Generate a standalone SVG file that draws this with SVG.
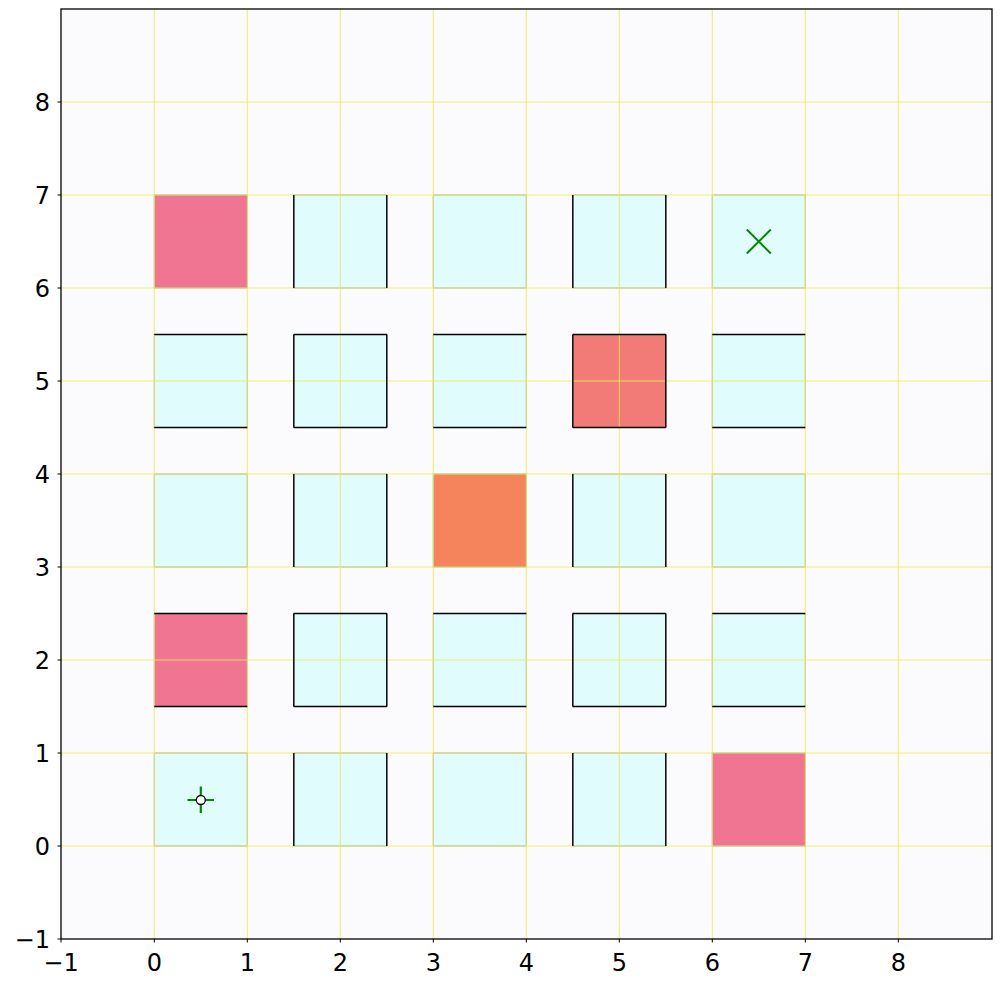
<svg xmlns="http://www.w3.org/2000/svg" width="1000" height="987" viewBox="0 0 1000 987">
<style>
.cell{stroke:#a4a4a8;stroke-width:1}
.free{fill:#e0fcfc}
.pink{fill:#ef7592}
.mix{fill:#f27b78}
.orng{fill:#f5845c}
.wall{stroke:#000;stroke-width:1.4;fill:none}
.grid{stroke:#ecec50;stroke-width:1;opacity:0.85;fill:none}
.tick{stroke:#000;stroke-width:1}
.lbl{font-family:"DejaVu Sans",sans-serif;font-size:24px;fill:#000}
</style>
<rect x="0" y="0" width="1000" height="987" fill="#ffffff"/>
<rect x="61" y="9" width="931" height="930" fill="#fbfbfe"/>

<g id="cells">
  <rect id="c-0-6" class="cell pink" x="154.3" y="195" width="93" height="93"/>
  <rect id="c-15-6" class="cell free" x="293.8" y="195" width="93" height="93"/>
  <rect id="c-3-6" class="cell free" x="433.3" y="195" width="93" height="93"/>
  <rect id="c-45-6" class="cell free" x="572.8" y="195" width="93" height="93"/>
  <rect id="c-6-6" class="cell free" x="712.3" y="195" width="93" height="93"/>
  <rect id="c-0-45" class="cell free" x="154.3" y="334.5" width="93" height="93"/>
  <rect id="c-15-45" class="cell free" x="293.8" y="334.5" width="93" height="93"/>
  <rect id="c-3-45" class="cell free" x="433.3" y="334.5" width="93" height="93"/>
  <rect id="c-45-45" class="cell mix" x="572.8" y="334.5" width="93" height="93"/>
  <rect id="c-6-45" class="cell free" x="712.3" y="334.5" width="93" height="93"/>
  <rect id="c-0-3" class="cell free" x="154.3" y="474" width="93" height="93"/>
  <rect id="c-15-3" class="cell free" x="293.8" y="474" width="93" height="93"/>
  <rect id="c-3-3" class="cell orng" x="433.3" y="474" width="93" height="93"/>
  <rect id="c-45-3" class="cell free" x="572.8" y="474" width="93" height="93"/>
  <rect id="c-6-3" class="cell free" x="712.3" y="474" width="93" height="93"/>
  <rect id="c-0-15" class="cell pink" x="154.3" y="613.5" width="93" height="93"/>
  <rect id="c-15-15" class="cell free" x="293.8" y="613.5" width="93" height="93"/>
  <rect id="c-3-15" class="cell free" x="433.3" y="613.5" width="93" height="93"/>
  <rect id="c-45-15" class="cell free" x="572.8" y="613.5" width="93" height="93"/>
  <rect id="c-6-15" class="cell free" x="712.3" y="613.5" width="93" height="93"/>
  <rect id="c-0-0" class="cell free" x="154.3" y="753" width="93" height="93"/>
  <rect id="c-15-0" class="cell free" x="293.8" y="753" width="93" height="93"/>
  <rect id="c-3-0" class="cell free" x="433.3" y="753" width="93" height="93"/>
  <rect id="c-45-0" class="cell free" x="572.8" y="753" width="93" height="93"/>
  <rect id="c-6-0" class="cell pink" x="712.3" y="753" width="93" height="93"/>
</g>

<g id="grid">
  <path class="grid" d="M154.3 9V939M247.3 9V939M340.3 9V939M433.3 9V939M526.3 9V939M619.3 9V939M712.3 9V939M805.3 9V939M898.3 9V939"/>
  <path class="grid" d="M61 846H992M61 753H992M61 660H992M61 567H992M61 474H992M61 381H992M61 288H992M61 195H992M61 102H992"/>
</g>

<g id="walls">
  <path class="wall" d="M293.8 195V288M386.8 195V288M572.8 195V288M665.8 195V288"/>
  <path class="wall" d="M293.8 334.5V427.5M386.8 334.5V427.5M572.8 334.5V427.5M665.8 334.5V427.5"/>
  <path class="wall" d="M293.8 474V567M386.8 474V567M572.8 474V567M665.8 474V567"/>
  <path class="wall" d="M293.8 613.5V706.5M386.8 613.5V706.5M572.8 613.5V706.5M665.8 613.5V706.5"/>
  <path class="wall" d="M293.8 753V846M386.8 753V846M572.8 753V846M665.8 753V846"/>
  <path class="wall" d="M154.3 334.5H247.3M293.8 334.5H386.8M433.3 334.5H526.3M572.8 334.5H665.8M712.3 334.5H805.3"/>
  <path class="wall" d="M154.3 427.5H247.3M293.8 427.5H386.8M433.3 427.5H526.3M572.8 427.5H665.8M712.3 427.5H805.3"/>
  <path class="wall" d="M154.3 613.5H247.3M293.8 613.5H386.8M433.3 613.5H526.3M572.8 613.5H665.8M712.3 613.5H805.3"/>
  <path class="wall" d="M154.3 706.5H247.3M293.8 706.5H386.8M433.3 706.5H526.3M572.8 706.5H665.8M712.3 706.5H805.3"/>
</g>

<g id="start">
  <path d="M200.8 786.5V813M187.5 800H214" stroke="#008a00" stroke-width="2.2" fill="none"/>
  <circle cx="200.8" cy="800" r="4.5" fill="#ffffff" stroke="#000" stroke-width="1.3"/>
</g>

<g id="goal">
  <path d="M746.8 229.5L770.8 253.5M770.8 229.5L746.8 253.5" stroke="#008a00" stroke-width="2" fill="none"/>
</g>

<g id="axes">
  <rect x="61" y="9" width="931" height="930" fill="none" stroke="#000" stroke-width="1.3"/>
  <path class="tick" d="M61 939V942.5M154.3 939V942.5M247.3 939V942.5M340.3 939V942.5M433.3 939V942.5M526.3 939V942.5M619.3 939V942.5M712.3 939V942.5M805.3 939V942.5M898.3 939V942.5"/>
  <path class="tick" d="M57.5 939H61M57.5 846H61M57.5 753H61M57.5 660H61M57.5 567H61M57.5 474H61M57.5 381H61M57.5 288H61M57.5 195H61M57.5 102H61"/>
  <g class="lbl" text-anchor="middle">
    <text x="61" y="971">−1</text>
    <text x="154.3" y="971">0</text>
    <text x="247.3" y="971">1</text>
    <text x="340.3" y="971">2</text>
    <text x="433.3" y="971">3</text>
    <text x="526.3" y="971">4</text>
    <text x="619.3" y="971">5</text>
    <text x="712.3" y="971">6</text>
    <text x="805.3" y="971">7</text>
    <text x="898.3" y="971">8</text>
  </g>
  <g class="lbl" text-anchor="end">
    <text x="50" y="947.5">−1</text>
    <text x="50" y="854.5">0</text>
    <text x="50" y="761.5">1</text>
    <text x="50" y="668.5">2</text>
    <text x="50" y="575.5">3</text>
    <text x="50" y="482.5">4</text>
    <text x="50" y="389.5">5</text>
    <text x="50" y="296.5">6</text>
    <text x="50" y="203.5">7</text>
    <text x="50" y="110.5">8</text>
  </g>
</g>
</svg>
